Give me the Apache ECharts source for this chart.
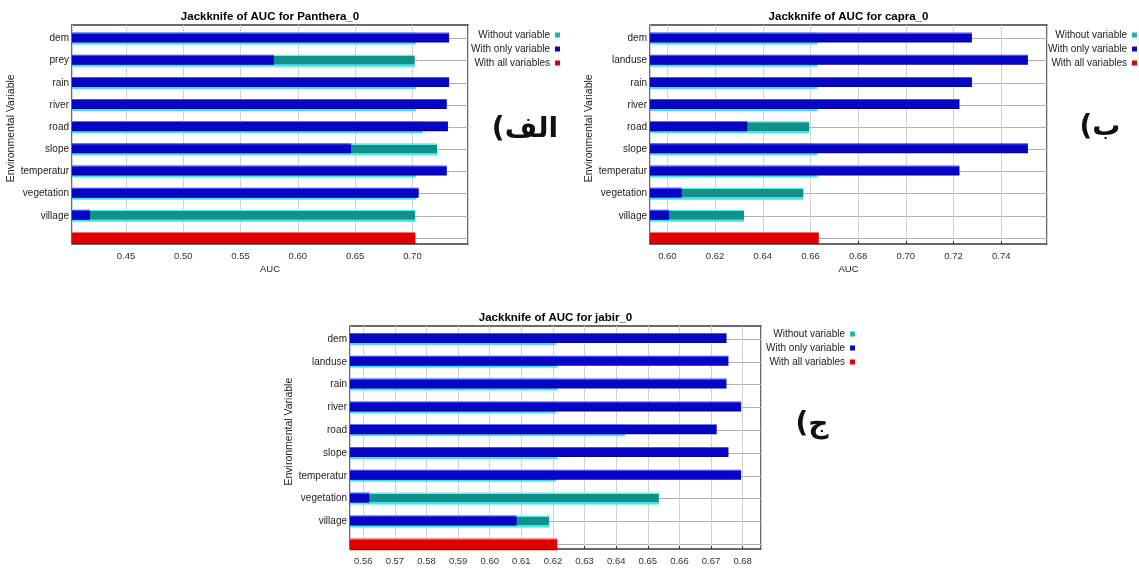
<!DOCTYPE html>
<html>
<head>
<meta charset="utf-8">
<script src="https://cdn.jsdelivr.net/npm/echarts@6/dist/echarts.min.js"></script>
<style>
  html, body { margin: 0; padding: 0; background: #fff; }
  #myChart { width: 1139px; height: 572px; }
</style>
</head>
<body>
<div id="myChart"></div>
<script>
// variables of each jackknife run
var varsPanthera = ['dem', 'prey', 'rain', 'river', 'road', 'slope', 'temperatur', 'vegetation', 'village']
var varsCapra = ['dem', 'landuse', 'rain', 'river', 'road', 'slope', 'temperatur', 'vegetation', 'village']
var varsJabir = ['dem', 'landuse', 'rain', 'river', 'road', 'slope', 'temperatur', 'vegetation', 'village']

// AUC without variable / with only variable / with all variables
var withoutPanthera = [0.703, 0.702, 0.703, 0.703, 0.709, 0.7215, 0.703, 0.703, 0.7024]
var onlyPanthera = [0.732, 0.579, 0.732, 0.730, 0.731, 0.6465, 0.730, 0.7055, 0.4186]
var allPanthera = 0.7026

var withoutCapra = [0.663, 0.663, 0.663, 0.663, 0.6595, 0.663, 0.663, 0.657, 0.6321]
var onlyCapra = [0.7277, 0.7512, 0.7277, 0.7225, 0.6335, 0.7512, 0.7225, 0.606, 0.6007]
var allCapra = 0.6635

var withoutJabir = [0.621, 0.6214, 0.6214, 0.621, 0.6428, 0.6214, 0.621, 0.6535, 0.6188]
var onlyJabir = [0.6749, 0.6755, 0.6749, 0.6795, 0.6718, 0.6755, 0.6795, 0.5619, 0.6085]
var allJabir = 0.6214

var legendNames = ['Without variable', 'With only variable', 'With all variables']
var titles = ['Jackknife of AUC for Panthera_0', 'Jackknife of AUC for capra_0', 'Jackknife of AUC for jabir_0']
var panelLabels = ['الف)\u200F', 'ب)\u200F', 'ج)\u200F']

var myChart = echarts.init(document.getElementById('myChart'))

function vgrad (stops) {
  return {
    type: 'linear', x: 0, y: 0, x2: 0, y2: 1,
    colorStops: stops.map(function (s) { return { offset: s[0], color: s[1] } })
  }
}
var tealFill = vgrad([[0, '#5ef2ee'], [0.1, '#5ef2ee'], [0.12, '#14908b'], [0.8, '#14908b'], [0.82, '#43e4e4'], [1, '#43e4e4']])
var blueFill = vgrad([[0, '#4a4aff'], [0.1, '#4a4aff'], [0.13, '#0606c4'], [0.88, '#0606c4'], [0.9, '#00009a'], [1, '#00009a']])
var redFill = vgrad([[0, '#ff6a6a'], [0.1, '#ff6a6a'], [0.13, '#de0000'], [0.88, '#de0000'], [0.92, '#b00000'], [1, '#b00000']])
var legendColors = ['#1fb5b0', '#0606c4', '#de0000']

var font = 'Liberation Sans'

var panels = [
  { vars: varsPanthera, without: withoutPanthera, only: onlyPanthera, all: allPanthera,
    box: { left: 72, top: 25, width: 396, height: 219 }, rows: { top: 27.5, height: 221.5 },
    min: 0.4029, max: 0.7485, step: 0.05, legendRight: 579, legendTop: 30, label: [525, 130], axisName: true },
  { vars: varsCapra, without: withoutCapra, only: onlyCapra, all: allCapra,
    box: { left: 650, top: 25, width: 397, height: 219 }, rows: { top: 27.5, height: 221.5 },
    min: 0.5927, max: 0.7592, step: 0.02, legendRight: 2, legendTop: 30, label: [1100, 128], axisName: true },
  { vars: varsJabir, without: withoutJabir, only: onlyJabir, all: allJabir,
    box: { left: 350, top: 326, width: 411, height: 223 }, rows: { top: 327.6, height: 228 },
    min: 0.5558, max: 0.6858, step: 0.01, legendRight: 284, legendTop: 329, label: [812, 425], axisName: false }
]

var grid = []
var xAxis = []
var yAxis = []
var series = []
var legend = []
var graphic = []

panels.forEach(function (p, i) {
  var a = i * 2
  var b = i * 2 + 1
  // frame grid with the AUC axis
  grid.push({ left: p.box.left, top: p.box.top, width: p.box.width, height: p.box.height,
    show: true, borderColor: '#3a3a3a', borderWidth: 1.5, backgroundColor: 'transparent' })
  // bar rows
  grid.push({ left: p.box.left, top: p.rows.top, width: p.box.width, height: p.rows.height })

  xAxis.push({
    type: 'value', gridIndex: a, min: p.min, max: p.max,
    minInterval: p.step, maxInterval: p.step,
    name: p.axisName ? 'AUC' : '', nameLocation: 'middle', nameGap: 20,
    nameTextStyle: { fontSize: 9.5, color: '#222', fontFamily: font },
    axisLine: { show: false },
    axisTick: { show: true, inside: true, length: 3, lineStyle: { color: '#333' } },
    axisLabel: { fontSize: 9.5, color: '#333', fontFamily: font, margin: 7,
      showMinLabel: false, showMaxLabel: false,
      formatter: function (v) { return v.toFixed(2) } },
    splitLine: { show: true, lineStyle: { color: '#d2d2d2', width: 1 } }
  })
  xAxis.push({ type: 'value', gridIndex: b, min: p.min, max: p.max, show: false })

  yAxis.push({ type: 'value', gridIndex: a, show: false })
  yAxis.push({
    type: 'category', gridIndex: b, inverse: true,
    data: p.vars.concat(['']),
    name: 'Environmental Variable', nameLocation: 'middle', nameGap: 52,
    nameTextStyle: { fontSize: 10.5, color: '#222', fontFamily: font, padding: [0, 0, 0, 20] },
    axisLine: { show: false },
    axisTick: { show: false },
    axisLabel: { fontSize: 10, color: '#222', fontFamily: font, margin: 3, interval: 0 },
    splitLine: { show: true, interval: 0, alignWithLabel: true, lineStyle: { color: '#b0b0b0', width: 1 } }
  })

  series.push({
    name: legendNames[0], type: 'bar', xAxisIndex: b, yAxisIndex: b,
    barWidth: 12, barGap: '-100%', itemStyle: { color: tealFill },
    data: p.without.concat(['-'])
  })
  series.push({
    name: legendNames[1], type: 'bar', xAxisIndex: b, yAxisIndex: b,
    barWidth: 10, barGap: '-100%', itemStyle: { color: blueFill },
    data: p.only.concat(['-'])
  })
  series.push({
    name: legendNames[2], type: 'bar', xAxisIndex: b, yAxisIndex: b,
    barWidth: 12, barGap: '-100%', itemStyle: { color: redFill },
    data: p.vars.map(function () { return '-' }).concat([p.all])
  })

  legend.push({
    orient: 'vertical', align: 'right', right: p.legendRight, top: p.legendTop, padding: 0,
    icon: 'rect', itemWidth: 5, itemHeight: 5, itemGap: 4,
    textStyle: { fontSize: 10, color: '#222', fontFamily: font, lineHeight: 10 },
    data: legendNames.map(function (n, k) { return { name: n, itemStyle: { color: legendColors[k] } } })
  })

  graphic.push({
    type: 'text', x: p.box.left + p.box.width / 2, y: p.box.top - 8,
    style: { text: titles[i], fontSize: 11.5, fontWeight: 'bold', fontFamily: font,
      fill: '#000', align: 'center', verticalAlign: 'middle' }
  })
  graphic.push({
    type: 'text', x: p.label[0], y: p.label[1],
    style: { text: panelLabels[i], fontSize: 28, fontWeight: 'bold', fontFamily: 'DejaVu Sans',
      fill: '#111', align: 'center', verticalAlign: 'middle' }
  })
})

var option = {
  backgroundColor: '#fff',
  animation: false,
  grid: grid,
  xAxis: xAxis,
  yAxis: yAxis,
  legend: legend,
  graphic: graphic,
  series: series
}
myChart.setOption(option)
</script>
</body>
</html>
